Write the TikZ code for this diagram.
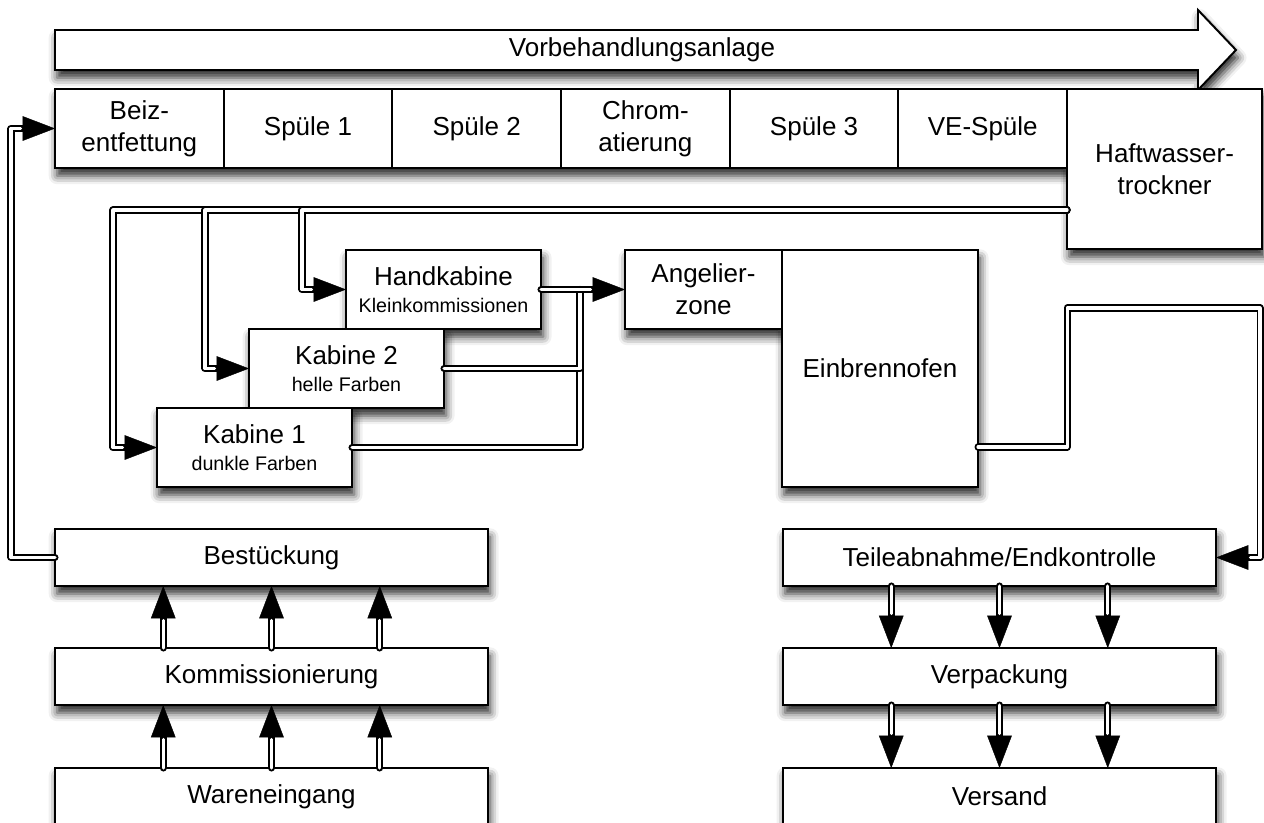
\documentclass[tikz,border=0pt]{standalone}
\usepackage{fontspec}
\setmainfont{Liberation Sans}
\usetikzlibrary{positioning,arrows.meta,calc,shadows.blur}
\pgfdeclarelayer{shade}
\pgfsetlayers{shade,main}
\newcommand{\sm}[1]{{\fontsize{14}{17}\selectfont #1}}
\tikzset{
  box/.style={draw,line width=1.4pt,fill=white,outer sep=0pt,inner sep=2pt,align=center,
    font=\fontsize{18.5}{22.5}\selectfont},
  cell/.style={box,minimum width=42.17mm,minimum height=19.75mm},
  wide/.style={box,minimum width=108.25mm,minimum height=14.25mm,anchor=north west},
  cabin/.style={box,minimum width=48.75mm,minimum height=19.75mm,anchor=north west},
  flow/.style={draw=black,line width=5pt,line cap=round,line join=round,
    postaction={draw=white,line width=2.2pt,-,shorten >=#1}},
  flow/.default=0pt,
  head/.style={-{Triangle[length=23pt,width=17.5pt,line width=0.3pt]}},
  boxshadow/.style={blur shadow={shadow xshift=1.5pt,shadow yshift=-5.5pt,shadow blur radius=6pt,shadow opacity=85}},
}
\begin{document}
\begin{tikzpicture}[x=0.25mm,y=-0.25mm]
\useasboundingbox (0,0) rectangle (1264,822);
% banner
\draw[line width=1.4pt,fill=white,boxshadow,line join=miter]
  (55,30) -- (1198,30) -- (1198,10) -- (1236,50) -- (1198,90) -- (1198,70) -- (55,70) -- cycle;
\node[font=\fontsize{18.5}{22.5}\selectfont] (vba) at (642,50) {Vorbehandlungsanlage};
% pretreatment line
\node[cell,anchor=north west] (beiz) at (55,89) {Beiz-\\entfettung};
\node[cell,right=0pt of beiz] (sp1) {Spüle 1};
\node[cell,right=0pt of sp1] (sp2) {Spüle 2};
\node[cell,right=0pt of sp2] (chrom) {Chrom-\\atierung};
\node[cell,right=0pt of chrom] (sp3) {Spüle 3};
\node[cell,right=0pt of sp3] (ve) {VE-Spüle};
\node[box,minimum width=48.75mm,minimum height=40mm,anchor=north west] (haft) at (ve.north east) {Haftwasser-\\trockner};
% cabins
\node[cabin] (hand) at (346,250) {Handkabine\\[-3pt]\sm{Kleinkommissionen}};
\node[cabin] (kab2) at (249,329) {Kabine 2\\[-3pt]\sm{helle Farben}};
\node[cabin] (kab1) at (157,408) {Kabine 1\\[-3pt]\sm{dunkle Farben}};
\node[box,minimum width=39.25mm,minimum height=19.75mm,anchor=north west] (angel) at (625,250) {Angelier-\\zone};
\node[box,minimum width=49mm,minimum height=59.25mm,anchor=north west] (ein) at (angel.north east) {Einbrennofen};
% logistics
\node[wide] (best) at (55,529) {Bestückung};
\node[wide] (komm) at (55,648) {Kommissionierung};
\node[wide] (ware) at (55,768) {Wareneingang};
\node[wide] (teile) at (783,529) {Teileabnahme/Endkontrolle};
\node[wide] (verp) at (783,648) {Verpackung};
\node[wide] (vers) at (783,768) {Versand};
% shadows behind boxes
\begin{pgfonlayer}{shade}
\path[boxshadow] (beiz.south west) rectangle (ve.north east);
\foreach \n in {haft,hand,kab2,kab1,angel,ein,best,komm,ware,teile,verp,vers}
  \path[boxshadow] (\n.south west) rectangle (\n.north east);
\end{pgfonlayer}
% flows
\draw[flow=24.5pt,head] (best.west) -- ++(-44,0) |- (beiz.west);
\draw[flow=24.5pt,head] ([yshift=-10.25mm]haft.west) -| ([xshift=-11mm]kab1.west) -- (kab1.west);
\draw[flow=24.5pt,head] ([yshift=-10.25mm]haft.west) -| ([xshift=-11mm]kab2.west) -- (kab2.west);
\draw[flow=24.5pt,head] ([yshift=-10.25mm]haft.west) -| ([xshift=-11mm]hand.west) -- (hand.west);
\draw[flow] (kab1.east) -| ([xshift=9.75mm]hand.east);
\draw[flow] (kab2.east) -| ([xshift=9.75mm]hand.east);
\draw[flow=24.5pt,head] (hand.east) -- (angel.west);
\draw[flow=24.5pt,head] ([yshift=10mm]ein.south east) -| ([yshift=-14.75mm]haft.south west)
  -| ([xshift=11mm]teile.east) -- (teile.east);
\foreach \f in {0.25,0.5,0.75} {
  \draw[flow=24.5pt,head] ($(ware.north west)!\f!(ware.north east)$) -- ($(komm.south west)!\f!(komm.south east)$);
  \draw[flow=24.5pt,head] ($(komm.north west)!\f!(komm.north east)$) -- ($(best.south west)!\f!(best.south east)$);
  \draw[flow=24.5pt,head] ($(teile.south west)!\f!(teile.south east)$) -- ($(verp.north west)!\f!(verp.north east)$);
  \draw[flow=24.5pt,head] ($(verp.south west)!\f!(verp.south east)$) -- ($(vers.north west)!\f!(vers.north east)$);
}
\end{tikzpicture}
\end{document}
